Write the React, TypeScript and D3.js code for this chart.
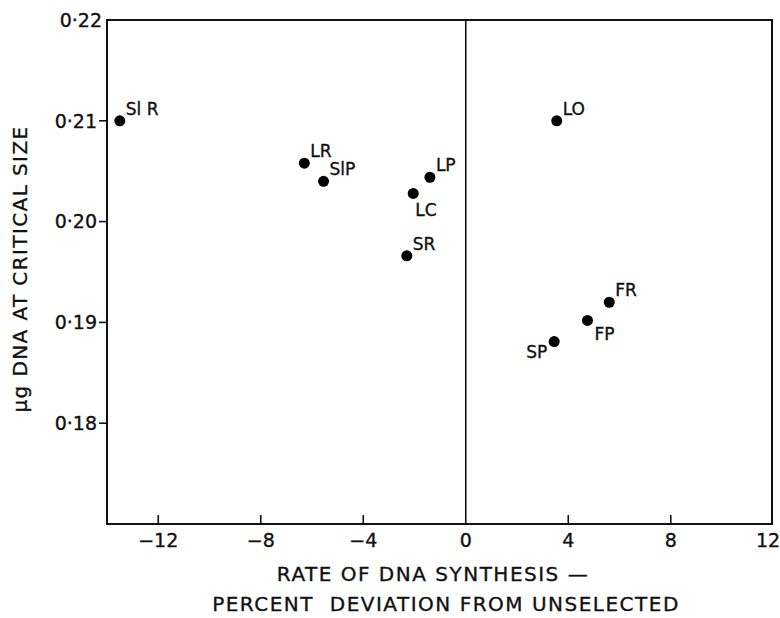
import React from "react";
import * as d3 from "d3";

// Strain codes and their measurements
const strains = ["Sl R", "LR", "SlP", "LP", "LC", "SR", "LO", "FR", "FP", "SP"];
const rateDeviation = [-13.5, -6.3, -5.55, -1.4, -2.05, -2.3, 3.55, 5.6, 4.75, 3.45];
const dnaAtCriticalSize = [0.21, 0.2058, 0.204, 0.2044, 0.2028, 0.1966, 0.21, 0.192, 0.1902, 0.1881];
// label placement relative to each point: "ur" = up-right, "below" = under the point, "ll" = lower-left
const labelSide = ["ur", "ur", "ur", "ur", "below", "ur", "ur", "ur", "lr", "ll"];

const xTicks = [-12, -8, -4, 0, 4, 8, 12];
const xTickText = ["\u221212", "\u22128", "\u22124", "0", "4", "8", "12"];
const yTicks = [0.22, 0.21, 0.2, 0.19, 0.18];
const yTickText = ["0·22", "0·21", "0·20", "0·19", "0·18"];

const W = 780;
const H = 618;
const left = 107;
const right = 772;
const top = 20;
const bottom = 524;
const font = "'DejaVu Sans', sans-serif";
const ink = "#111";

export default function App() {
  const x = d3.scaleLinear().domain([-14, 11.95]).range([left, right]);
  const y = d3.scaleLinear().domain([0.17, 0.22]).range([bottom, top]);

  const labelPos = (side: string, px: number, py: number) => {
    switch (side) {
      case "below":
        return { x: px + 2, y: py + 23, anchor: "start" };
      case "lr":
        return { x: px + 7, y: py + 20, anchor: "start" };
      case "ll":
        return { x: px - 7, y: py + 16, anchor: "end" };
      default:
        return { x: px + 6, y: py - 6, anchor: "start" };
    }
  };

  const textStyle = { stroke: ink, strokeWidth: 0.35 };

  return (
    <svg
      width={W}
      height={H}
      style={{ position: "absolute", left: 0, top: 0, background: "#fff" }}
      fontFamily={font}
    >
      <rect x={0} y={0} width={W} height={H} fill="#fff" />
      {/* frame */}
      <rect
        x={left}
        y={top}
        width={right - left}
        height={bottom - top}
        fill="none"
        stroke={ink}
        strokeWidth={2}
      />
      {/* zero line */}
      <line x1={x(0)} x2={x(0)} y1={top} y2={bottom} stroke={ink} strokeWidth={1.6} />

      {/* x ticks (inward) and labels */}
      {xTicks.map((t, i) => (
        <g key={"xt" + t}>
          {t !== 0 && t < 11.95 && (
            <line x1={x(t)} x2={x(t)} y1={bottom} y2={bottom - 9} stroke={ink} strokeWidth={1.6} />
          )}
          <text
            x={t === 12 ? right - 4 : x(t)}
            y={bottom + 23}
            fontSize={19}
            textAnchor="middle"
            fill={ink}
            style={textStyle}
          >
            {xTickText[i]}
          </text>
        </g>
      ))}

      {/* y ticks (outward) and labels */}
      {yTicks.map((t, i) => (
        <g key={"yt" + t}>
          {t < 0.22 && (
            <line x1={left} x2={left - 8} y1={y(t)} y2={y(t)} stroke={ink} strokeWidth={1.6} />
          )}
          <text
            x={t < 0.22 ? left - 10 : left - 5}
            y={y(t)}
            dy="0.36em"
            fontSize={19}
            textAnchor="end"
            fill={ink}
            style={textStyle}
          >
            {yTickText[i]}
          </text>
        </g>
      ))}

      {/* points */}
      {strains.map((s, i) => {
        const px = x(rateDeviation[i]);
        const py = y(dnaAtCriticalSize[i]);
        const lp = labelPos(labelSide[i], px, py);
        return (
          <g key={s}>
            <circle cx={px} cy={py} r={5.5} fill="#000" />
            <text x={lp.x} y={lp.y} fontSize={17} textAnchor={lp.anchor} fill={ink} style={textStyle}>
              {s}
            </text>
          </g>
        );
      })}

      {/* axis titles */}
      <text x={433} y={581} fontSize={20} textAnchor="middle" fill={ink} letterSpacing={1.5} style={textStyle}>
        RATE OF DNA SYNTHESIS —
      </text>
      <text
        x={446}
        y={611}
        fontSize={20}
        textAnchor="middle"
        fill={ink}
        letterSpacing={1.5}
        xmlSpace="preserve"
        style={textStyle}
      >
        PERCENT  DEVIATION FROM UNSELECTED
      </text>
      <text
        transform={`translate(27, 269) rotate(-90)`}
        fontSize={20}
        textAnchor="middle"
        fill={ink}
        letterSpacing={1.4}
        style={textStyle}
      >
        μg DNA AT CRITICAL SIZE
      </text>
    </svg>
  );
}
